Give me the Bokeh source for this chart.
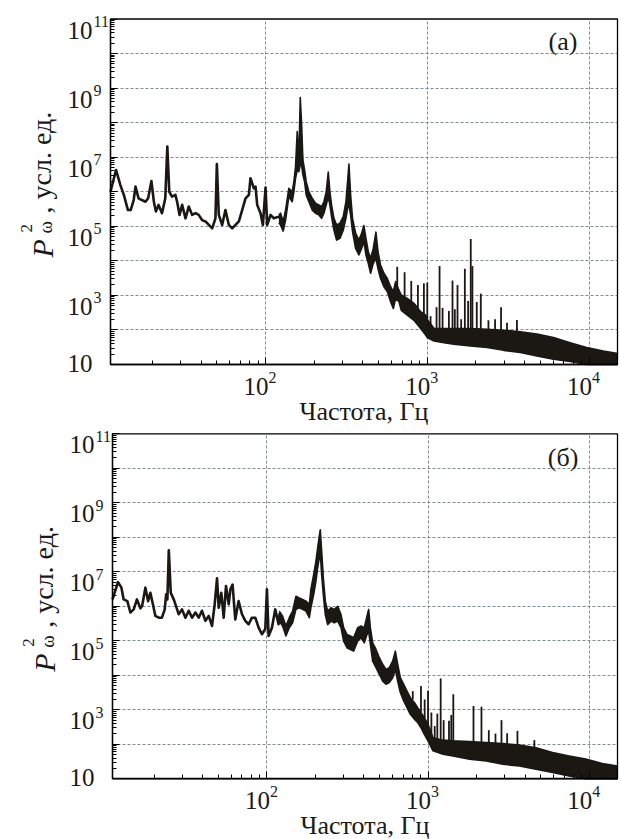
import math
import numpy as np
from bokeh.plotting import figure
from bokeh.models import Range1d, FixedTicker, CustomJSTickFormatter, Label, BoxAnnotation
from bokeh.layouts import column
from bokeh.embed import file_html
from bokeh.resources import INLINE

# ---------------- data (P^2 given as decimal exponents) ----------------
# Panel (a): low-frequency trace
a_line_f = [11.0, 11.9, 12.65, 13.3, 14.1, 14.66, 15.3, 15.7, 16.4, 17.2, 18.1, 18.8, 19.7, 20.4, 21.0, 21.8,
            22.9, 24.0, 24.7, 25.4, 26.4, 27.7, 28.4, 29.4, 30.5, 32.0, 33.5, 35.2, 36.9, 38.6, 40.5, 42.5,
            44.6, 46.8, 49.0, 50.0, 51.4, 53.9, 56.5, 59.3, 62.2, 65.2, 68.4, 71.7, 75.2, 78.9, 80.7, 84.7,
            86.7, 88.8, 93.1, 96.3, 100.0, 102.4, 107.4, 112.6, 120.9, 124.0]
a_line_exp = [6.0, 6.63, 6.2, 5.91, 5.47, 5.47, 5.76, 6.15, 5.81, 5.76, 5.71, 5.81, 6.31, 5.71, 5.43, 5.62,
              5.38, 5.81, 7.31, 6.0, 5.86, 5.91, 5.71, 5.33, 5.62, 5.23, 5.57, 5.33, 5.38, 5.33, 5.18, 5.14,
              5.04, 4.94, 5.23, 6.8, 5.33, 5.04, 5.47, 5.04, 4.94, 5.04, 5.14, 5.47, 5.81, 5.91, 6.39, 6.1,
              6.15, 5.62, 5.38, 5.04, 6.12, 5.04, 5.33, 5.23, 5.28, 5.2]
# Panel (a): noisy band (upper / lower envelope)
a_band_f = [121, 123.8, 128.6, 133, 139.3, 146.2, 149.7, 153.3, 157, 160.7, 163.9, 167, 170.2, 174.3, 178.4,
            185.3, 194.4, 203.7, 213.6, 222, 229.6, 237.3, 244.2, 250, 256, 264.7, 274.9, 288.4, 302.3, 314,
            321.5, 327.8, 335.7, 345, 360.4, 377.6, 392.6, 405.6, 417.6, 431.7, 446.2, 463.5, 481.4, 495.4,
            514, 539.5, 565.7, 593, 616.6, 637, 668, 690.4, 752, 827, 909.6, 977, 1000, 1099, 1267, 1459,
            1849, 2343, 2966, 3757, 4762, 6030, 7640, 9670, 12250, 15100]
a_band_hi = [5.33, 5.38, 5.14, 5.47, 6.1, 6.0, 6.29, 6.73, 7.74, 6.92, 8.73, 7.99, 6.92, 6.63, 6.29,
             6.0, 5.81, 5.67, 5.62, 5.57, 5.71, 6.0, 6.57, 6.0, 5.62, 5.23, 5.04, 5.09, 5.28, 5.71,
             6.29, 6.8, 5.91, 5.23, 4.8, 4.6, 4.8, 5.02, 4.65, 4.27, 4.07, 4.36, 4.83, 4.27,
             3.88, 3.64, 3.49, 3.25, 3.11, 3.4, 3.15, 3.01, 2.91, 2.77, 2.53, 2.43, 2.3, 2.05, 2.04, 2.04,
             2.04, 2.02, 1.99, 1.95, 1.88, 1.78, 1.63, 1.49, 1.39, 1.32]
a_band_lo = [5.1, 5.04, 4.86, 5.18, 5.86, 5.71, 6.0, 6.39, 6.63, 6.58, 6.78, 6.78, 6.49, 6.29, 5.91,
             5.71, 5.47, 5.38, 5.33, 5.23, 5.38, 5.62, 5.86, 5.62, 5.28, 4.89, 4.6, 4.65, 4.89, 5.23,
             5.52, 5.62, 5.33, 4.85, 4.36, 4.17, 4.36, 4.56, 4.17, 3.93, 3.64, 3.93, 4.07, 3.78,
             3.49, 3.25, 3.11, 2.82, 2.62, 2.91, 2.82, 2.57, 2.43, 2.28, 2.04, 1.85, 1.78, 1.68, 1.63, 1.59,
             1.54, 1.49, 1.41, 1.35, 1.25, 1.15, 1.09, 1.0, 1.0, 1.0]
# Panel (a): narrow harmonic spikes
a_spike_f = [652, 724, 796, 875, 953, 1000, 1048, 1141, 1191, 1243, 1360, 1432, 1480, 1538, 1620, 1707,
             1789, 1857, 1901, 2023, 2142, 2388, 2625, 2858, 3112, 3583]
a_spike_base = [3.1, 2.95, 2.8, 2.6, 2.4, 2.3, 2.05, 2.05, 2.05, 2.05, 2.04, 2.04, 2.04, 2.04, 2.04, 2.04,
                2.04, 2.04, 2.04, 2.03, 2.03, 2.02, 2.0, 1.99, 1.98, 1.96]
a_spike_top = [3.83, 3.67, 3.42, 3.3, 3.35, 3.37, 2.4, 2.66, 3.85, 2.64, 2.55, 3.43, 2.6, 3.3, 2.31, 3.77,
               2.84, 4.63, 3.85, 2.81, 3.05, 2.28, 2.31, 2.66, 2.21, 2.29]

# Panel (b): low-frequency trace
b_line_f = [11.0, 11.9, 12.5, 12.9, 13.6, 14.2, 14.9, 15.6, 16.4, 16.8, 17.6, 18.3, 18.9, 19.6, 20.3, 21.3,
            22.3, 23.2, 23.7, 24.1, 24.6, 25.3, 26.4, 27.7, 28.3, 29.7, 31.2, 32.7, 34.3, 36.0, 37.7, 39.5,
            41.5, 43.5, 45.6, 47.4, 49.0, 50.2, 52.1, 53.9, 55.7, 57.9, 59.3, 61.2, 63.6, 66.7, 70.0, 73.4,
            77.0, 80.7, 84.7, 88.8, 93.1, 97.7, 100.0, 102.4, 107.4, 112.6, 118.1, 120.0]
b_line_exp = [6.2, 6.7, 6.54, 6.2, 6.15, 5.82, 5.91, 6.2, 5.94, 6.01, 6.54, 6.15, 6.39, 6.06, 5.72, 5.67,
              5.67, 5.91, 6.35, 6.2, 7.62, 6.39, 6.2, 5.91, 5.77, 5.91, 5.67, 5.87, 5.67, 5.82, 5.67, 5.87,
              5.58, 5.72, 5.43, 6.06, 6.81, 5.96, 6.39, 5.67, 6.59, 6.06, 6.49, 6.63, 5.62, 6.15, 5.77, 5.58,
              5.48, 5.67, 5.67, 5.38, 5.19, 5.34, 6.49, 5.14, 5.38, 5.91, 5.48, 5.8]
# Panel (b): noisy band
b_band_f = [119.3, 125.1, 131.2, 137.6, 144.3, 151.4, 158.8, 166.5, 174.7, 183.2, 187.5, 195, 201.5, 206.4,
            211.3, 214.4, 218.6, 223.9, 230.3, 238.2, 249.7, 261.9, 274.8, 288.2, 299.3, 314, 329.4, 345.2,
            365.6, 383.6, 402.3, 417.8, 428, 438.5, 453.2, 475.3, 498.6, 522.9, 548.3, 575, 603.4, 626.6,
            648, 673, 706, 740.6, 776.4, 822, 862.3, 904.4, 948.3, 1000, 1074, 1238, 1428, 1810, 2296,
            2911, 3690, 4677, 5930, 7516, 9526, 12075, 15000]
b_band_hi = [5.86, 5.71, 5.43, 5.67, 5.86, 6.29, 6.24, 6.2, 6.15, 6.05, 6.49, 6.92, 7.31, 7.69,
             8.03, 8.22, 7.6, 6.82, 6.15, 5.86, 5.96, 5.91, 6.0, 5.76, 5.38, 5.18, 5.14, 5.09,
             5.38, 5.43, 5.38, 5.71, 5.91, 5.38, 4.94, 4.75, 4.51, 4.32, 4.17, 4.22, 4.41, 4.7,
             4.32, 3.93, 3.74, 3.54, 3.35, 3.21, 3.06, 2.92, 2.77, 2.58, 2.19, 2.12, 2.1, 2.08, 2.05,
             2.02, 1.98, 1.9, 1.76, 1.66, 1.57, 1.44, 1.37]
b_band_lo = [5.57, 5.43, 5.14, 5.38, 5.52, 5.91, 5.96, 5.91, 5.86, 5.67, 5.96, 6.34, 6.73, 7.11,
             7.4, 7.55, 6.92, 6.34, 5.76, 5.47, 5.57, 5.52, 5.57, 5.38, 4.99, 4.8, 4.75, 4.7,
             4.99, 5.09, 4.94, 5.18, 5.28, 4.9, 4.41, 4.22, 4.03, 3.83, 3.74, 3.79, 3.93, 4.17,
             3.83, 3.5, 3.26, 3.06, 2.87, 2.73, 2.63, 2.48, 2.29, 2.1, 1.81, 1.71, 1.66, 1.57, 1.52,
             1.42, 1.37, 1.28, 1.18, 1.08, 1.0, 1.0, 1.0]
# Panel (b): narrow harmonic spikes
b_spike_f = [804, 904, 953, 1000, 1049, 1100, 1142, 1198, 1250, 1349, 1394, 1435, 1915, 2146, 2384, 2622,
             2857, 3098, 3589, 4570]
b_spike_base = [3.3, 2.92, 2.75, 2.58, 2.18, 2.15, 2.15, 2.13, 2.12, 2.11, 2.1, 2.1, 2.07, 2.06, 2.05, 2.04,
                2.02, 2.01, 1.98, 1.9]
b_spike_top = [3.54, 3.69, 3.3, 3.55, 2.92, 2.53, 2.89, 3.91, 2.7, 2.68, 2.85, 3.45, 3.11, 3.09, 2.41, 2.31,
               2.7, 2.32, 2.39, 2.12]

# ---------------- axes / text ----------------
x_tick_exps = [2, 3, 4]
y_tick_exps = [1, 3, 5, 7, 9, 11]
x_title = "Частота, Гц"
y_title_rest = ", усл. ед."
panel_names = ["(а)", "(б)"]

FONT = "Liberation Serif"
INK = "#1b1713"
TXT = "#1a1a1a"
GRID = "#7f8a96"
X0, X1, Y0, Y1 = 11.0, 15000.0, 10.0, 1e11


def pw(e):
    return (10.0 ** np.asarray(e, dtype=float)).tolist()


def txt(p, text, x, y, xo, yo, size, align="center", baseline="middle", angle=0.0, style="normal"):
    p.add_layout(Label(x=x, y=y, x_offset=xo, y_offset=yo, text=text, text_font=FONT,
                       text_font_size=f"{size}px", text_align=align, text_baseline=baseline,
                       angle=angle, text_font_style=style, text_color=TXT))


def make_panel(w, h, box, line_f, line_e, band_f, band_hi, band_lo, sp_f, sp_b, sp_t, name, name_yo, sup_yo):
    # box = (left, top, right, bottom) of the plotting box in canvas pixels;
    # the figure frame fills the whole canvas so that all texts can sit inside it.
    bl, bt, br, bb = box
    lx0, lx1 = math.log10(X0), math.log10(X1)
    sx = (lx1 - lx0) / (br - bl)
    xr = (10 ** (lx0 - bl * sx), 10 ** (lx0 + (w - bl) * sx))
    ly0, ly1 = math.log10(Y0), math.log10(Y1)
    sy = (ly1 - ly0) / (bb - bt)
    yr = (10 ** (ly0 - (h - bb) * sy), 10 ** (ly1 + bt * sy))

    p = figure(width=w, height=h, x_axis_type="log", y_axis_type="log",
               x_range=Range1d(*xr), y_range=Range1d(*yr),
               output_backend="svg", toolbar_location=None,
               min_border_left=0, min_border_right=0, min_border_top=0, min_border_bottom=0)
    p.title.visible = False
    p.background_fill_color = "white"
    p.border_fill_color = "white"
    p.outline_line_color = None

    yt = [10.0 ** k for k in range(1, 12)]
    ymin = [m * 10.0 ** k for k in range(1, 11) for m in range(2, 10)]
    xt = [100.0, 1000.0, 10000.0]
    xmin = [m * 10.0 ** k for k in range(1, 5) for m in range(2, 10)]
    p.yaxis.ticker = FixedTicker(ticks=yt, minor_ticks=ymin)
    p.xaxis.ticker = FixedTicker(ticks=xt, minor_ticks=xmin)
    p.yaxis.fixed_location = X0
    p.xaxis.fixed_location = Y0
    p.yaxis.bounds = (Y0, Y1)
    p.xaxis.bounds = (X0, X1)
    for ax in (p.xaxis[0], p.yaxis[0]):
        ax.formatter = CustomJSTickFormatter(code="return ''")
        ax.major_tick_in = 7
        ax.major_tick_out = 0
        ax.minor_tick_in = 4
        ax.minor_tick_out = 0
        ax.axis_line_color = "black"
        ax.axis_line_width = 1.3
        ax.major_tick_line_color = "black"
        ax.minor_tick_line_color = "black"
        ax.major_label_standoff = 0
    p.xgrid.ticker = FixedTicker(ticks=xt)
    p.ygrid.ticker = FixedTicker(ticks=[10.0 ** k for k in range(2, 11)])
    cross_ok = True
    try:
        p.xgrid[0].cross_bounds = (Y0, Y1)
        p.ygrid[0].cross_bounds = (X0, X1)
    except Exception:
        cross_ok = False
    for g in (p.xgrid[0], p.ygrid[0]):
        g.grid_line_color = GRID
        g.grid_line_dash = "3 2"
        g.grid_line_width = 1
        if not cross_ok:
            g.visible = False
    if not cross_ok:
        gx = [100.0, 1000.0, 10000.0]
        p.segment(x0=gx, y0=[Y0] * 3, x1=gx, y1=[Y1] * 3, line_color=GRID, line_dash="3 2", line_width=1)
        gy = [10.0 ** k for k in range(2, 11)]
        p.segment(x0=[X0] * len(gy), y0=gy, x1=[X1] * len(gy), y1=gy, line_color=GRID,
                  line_dash="3 2", line_width=1)

    # data
    p.line(line_f, pw(line_e), line_color=INK, line_width=2.6, line_join="round")
    p.varea(x=band_f, y1=pw(band_lo), y2=pw(band_hi), fill_color=INK)
    p.line(band_f, pw(band_hi), line_color=INK, line_width=1.6, line_join="round")
    p.line(band_f, pw(band_lo), line_color=INK, line_width=1.6, line_join="round")
    p.segment(x0=sp_f, y0=pw(sp_b), x1=sp_f, y1=pw(sp_t), line_color=INK, line_width=1.8)

    # plotting box
    p.add_layout(BoxAnnotation(left=X0, right=X1, bottom=Y0, top=Y1, fill_alpha=0,
                               line_color="black", line_width=1.3, line_alpha=1))

    # y tick labels
    for k in y_tick_exps:
        if k == 1:
            txt(p, "10", X0, 10.0 ** k, -18, 1, 25, align="right")
        else:
            txt(p, "10", X0, 10.0 ** k, -18, -11, 25, align="right")
            txt(p, str(k), X0, 10.0 ** k, -17, sup_yo, 16, align="left")
    # x tick labels
    for k in x_tick_exps:
        txt(p, "10", 10.0 ** k, Y0, 3, -22, 25, align="right")
        txt(p, str(k), 10.0 ** k, Y0, 3, -13, 16, align="left")
    # x title
    txt(p, x_title, math.sqrt(X0 * X1), Y0, 0, -47, 26)
    # y title (rotated, pieces)
    a = math.pi / 2
    txt(p, "P", X0, Y0, -68, 107, 30, align="left", baseline="alphabetic", angle=a, style="italic")
    txt(p, "2", X0, Y0, -84, 132, 17, align="left", baseline="alphabetic", angle=a)
    txt(p, "ω", X0, Y0, -65, 131, 19, align="left", baseline="alphabetic", angle=a)
    txt(p, y_title_rest, X0, Y0, -69, 151, 28, align="left", baseline="alphabetic", angle=a)
    # panel name
    txt(p, name, 1e4, Y1, -26, name_yo, 26)
    return p


TOP_H = 427
p1 = make_panel(620, TOP_H, (110, 18.5, 617, 364), a_line_f, a_line_exp, a_band_f, a_band_hi, a_band_lo,
                a_spike_f, a_spike_base, a_spike_top, panel_names[0], -22, -2)
p2 = make_panel(620, 839 - TOP_H, (112, 433.3 - TOP_H, 617, 778.3 - TOP_H), b_line_f, b_line_exp,
                b_band_f, b_band_hi, b_band_lo, b_spike_f, b_spike_base, b_spike_top, panel_names[1], -24, -3)

layout = column(p1, p2, spacing=0)
open("out.html", "w").write(file_html(layout, INLINE))
